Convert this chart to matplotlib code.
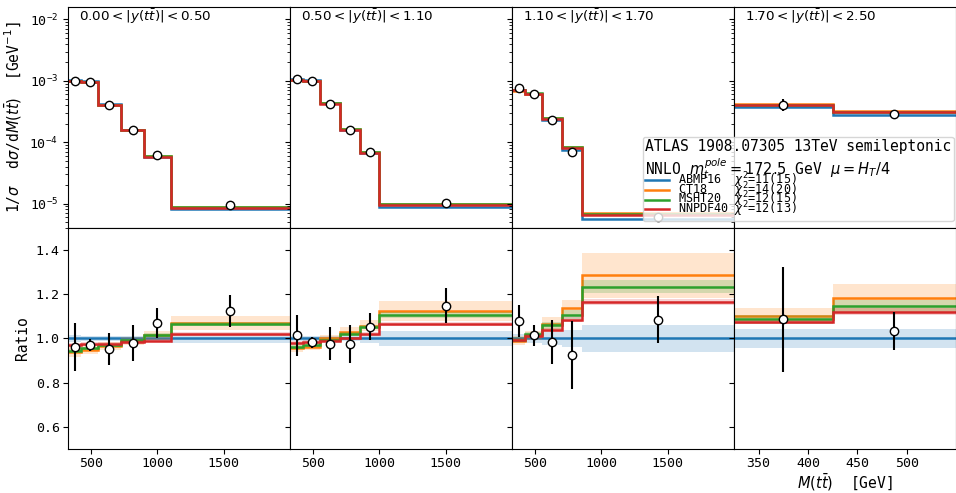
import matplotlib
matplotlib.use('Agg')
import matplotlib.pyplot as plt
import numpy as np

plt.rcParams['font.family'] = 'monospace'
plt.rcParams['font.size'] = 10.5

# |y(tt)| slices
ybins = ['0.00', '0.50', '1.10', '1.70', '2.50']

# M(tt) bin edges per slice
edges = [
    [325, 425, 550, 725, 900, 1100, 2000],
    [325, 425, 550, 700, 850, 1000, 2000],
    [325, 425, 550, 700, 850, 2000],
    [325, 425, 550],
]

# ABMP16 prediction (reference of the ratio), GeV^-1
abmp16 = [
    [1.04e-3, 1.0e-3, 4.2e-4, 1.6e-4, 5.8e-5, 8.3e-6],
    [1.065e-3, 1.02e-3, 4.3e-4, 1.59e-4, 6.55e-5, 8.9e-6],
    [7.0e-4, 6.1e-4, 2.3e-4, 7.4e-5, 5.5e-6],
    [3.78e-4, 2.74e-4],
]

# data / ABMP16
data_ratio = [
    [0.96, 0.971, 0.952, 0.979, 1.07, 1.125],
    [1.014, 0.982, 0.977, 0.975, 1.054, 1.149],
    [1.081, 1.014, 0.984, 0.926, 1.085],
    [1.086, 1.033],
]
data_err = [
    [0.108, 0.027, 0.071, 0.08, 0.068, 0.074],
    [0.094, 0.026, 0.074, 0.087, 0.06, 0.078],
    [0.072, 0.047, 0.1, 0.154, 0.107],
    [0.236, 0.085],
]

# theory / ABMP16
ct18_ratio = [
    [0.94, 0.95, 0.965, 0.99, 1.015, 1.07],
    [0.955, 0.963, 1.0, 1.03, 1.058, 1.125],
    [0.99, 1.015, 1.067, 1.139, 1.285],
    [1.104, 1.183],
]
msht20_ratio = [
    [0.945, 0.955, 0.97, 0.991, 1.017, 1.066],
    [0.961, 0.97, 0.995, 1.021, 1.052, 1.106],
    [0.995, 1.02, 1.06, 1.107, 1.234],
    [1.086, 1.145],
]
nnpdf40_ratio = [
    [0.971, 0.974, 0.977, 0.985, 0.99, 1.02],
    [0.979, 0.983, 0.99, 1.0, 1.021, 1.065],
    [0.994, 1.012, 1.039, 1.085, 1.165],
    [1.075, 1.122],
]

# PDF uncertainty half-widths (ratio units)
abmp16_band = [
    [0.015, 0.012, 0.012, 0.012, 0.012, 0.02],
    [0.01, 0.01, 0.01, 0.012, 0.02, 0.036],
    [0.02, 0.02, 0.03, 0.04, 0.063],
    [0.045, 0.045],
]
ct18_band = [
    [0.022, 0.02, 0.018, 0.018, 0.02, 0.032],
    [0.015, 0.015, 0.015, 0.02, 0.025, 0.045],
    [0.02, 0.02, 0.03, 0.037, 0.1],
    [0.032, 0.065],
]
msht20_band = [
    [0.008, 0.008, 0.008, 0.008, 0.01, 0.01],
    [0.008, 0.008, 0.008, 0.01, 0.01, 0.012],
    [0.01, 0.01, 0.015, 0.02, 0.03],
    [0.02, 0.03],
]
nnpdf40_band = [
    [0.008, 0.008, 0.008, 0.008, 0.008, 0.008],
    [0.008, 0.008, 0.008, 0.008, 0.008, 0.01],
    [0.01, 0.01, 0.01, 0.012, 0.015],
    [0.01, 0.015],
]

pdf_names = ['ABMP16', 'CT18', 'MSHT20', 'NNPDF40']
chi2 = ['11(15)', '14(20)', '12(15)', '12(13)']
colors = ['C0', 'C1', 'C2', 'C3']

ratios = [[np.ones(len(v)) for v in abmp16], ct18_ratio, msht20_ratio, nnpdf40_ratio]
bands = [abmp16_band, ct18_band, msht20_band, nnpdf40_band]

fig, axes = plt.subplots(2, 4, figsize=(9.56, 4.93), dpi=100, sharey='row')
fig.subplots_adjust(left=0.0711, right=1.0, top=0.986, bottom=0.0892, hspace=0, wspace=0)

for k in range(4):
    ax = axes[0, k]
    axr = axes[1, k]
    e = np.array(edges[k])
    xc = 0.5 * (e[:-1] + e[1:])
    ref = np.array(abmp16[k])
    for p in range(4):
        r = np.array(ratios[p][k], dtype=float)
        b = np.array(bands[p][k])
        ax.stairs(ref * r, e, baseline=None, color=colors[p], lw=1.8,
                  label=f'{pdf_names[p]:<8}$\\chi^2$={chi2[p]}')
        axr.stairs(r + b, e, baseline=r - b, fill=True, color=colors[p], alpha=0.2, lw=0)
        axr.stairs(r, e, baseline=None, color=colors[p], lw=1.8)
    dr = np.array(data_ratio[k])
    de = np.array(data_err[k])
    ax.errorbar(xc, ref * dr, yerr=ref * de, fmt='o', color='k', mfc='white',
                mec='k', ms=6, lw=1.5, zorder=5)
    axr.errorbar(xc, dr, yerr=de, fmt='o', color='k', mfc='white',
                 mec='k', ms=6, lw=1.5, zorder=5)

    ax.set_yscale('log')
    ax.set_ylim(4e-6, 1.6e-2)
    axr.set_ylim(0.5, 1.5)
    ax.set_xlim(e[0], e[-1])
    axr.set_xlim(e[0], e[-1])
    ax.tick_params(axis='x', bottom=False, labelbottom=False)
    if k < 3:
        axr.set_xticks([500, 1000, 1500])
    else:
        axr.set_xticks([350, 400, 450, 500])
    axr.tick_params(labelsize=9.5, pad=2.5)
    ax.tick_params(labelsize=9.5)
    ax.text(0.05, 0.955, f'${ybins[k]} < |y(t\\bar{{t}})| < {ybins[k+1]}$',
            transform=ax.transAxes, ha='left', va='center', fontsize=9.7)

axes[0, 0].set_ylabel(r'1/$\sigma$  d$\sigma$/d$M(t\bar{t})$  [GeV$^{-1}$]')
axes[1, 0].set_ylabel('Ratio')
axes[1, 0].set_yticks([0.6, 0.8, 1.0, 1.2, 1.4])
axes[1, 3].set_xlabel(r'$M(t\bar{t})$  [GeV]', labelpad=1)

leg = axes[0, 3].legend(loc='lower right', bbox_to_anchor=(0.99, 0.03), borderaxespad=0,
                        fontsize=8.5, title_fontsize=10.5, labelspacing=-0.85,
                        borderpad=0.2, alignment='left',
                        title='ATLAS 1908.07305 13TeV semileptonic\n'
                              r'NNLO $m_t^{pole}=172.5$ GeV $\mu=H_T/4$')
leg._legend_title_box._text.set_linespacing(1.1)

fig.savefig('out.png', dpi=100)
